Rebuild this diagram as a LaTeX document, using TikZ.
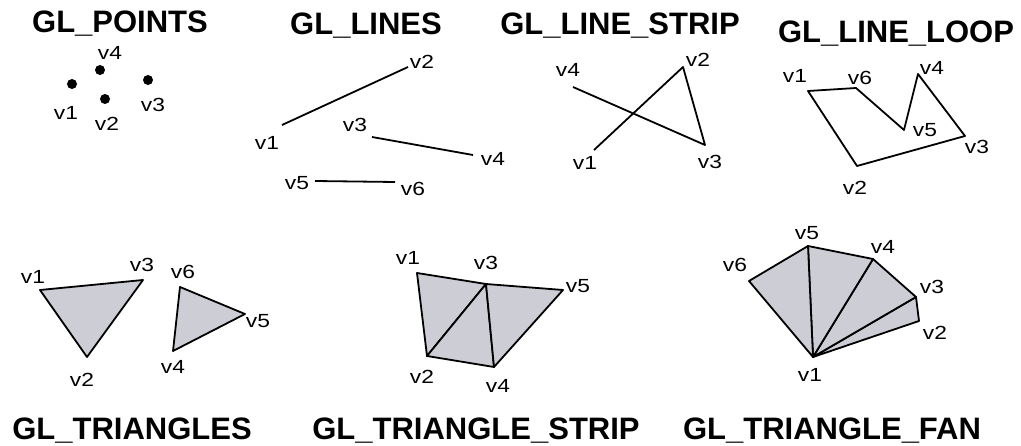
\documentclass[tikz,border=0pt]{standalone}
\usepackage{fontspec}
\setmainfont{Liberation Sans}
\newfontfamily\vfont[FakeStretch=1.2]{Liberation Sans}
\usetikzlibrary{positioning}

\definecolor{facegray}{RGB}{205,205,213}
\tikzset{
  title/.style={font=\bfseries\fontsize{31}{32}\selectfont, anchor=base, inner sep=0pt},
  vlabel/.style={font=\vfont\fontsize{19}{20}\selectfont, inner sep=0pt},
  edge/.style={line width=1.8pt, line join=round},
  face/.style={fill=facegray, draw=black, line width=1.8pt, line join=round},
}

\begin{document}
\begin{tikzpicture}[x=1pt, y=-1pt]
\useasboundingbox (0,0) rectangle (1021,446);
% GL_POINTS
\node[title] (tpts) at (120,33) {GL\_POINTS};
\coordinate (pa1) at (72,84);
\coordinate (pa2) at (105,99);
\coordinate (pa3) at (148,80);
\coordinate (pa4) at (100,70);
\foreach \i in {1,...,4} \fill (pa\i) circle (5);
\node[vlabel] (la1) at (66,113) {v1};
\node[vlabel] (la2) at (107,124) {v2};
\node[vlabel] (la3) at (153,105) {v3};
\node[vlabel] (la4) at (110,53) {v4};
% GL_LINES
\node[title] (tlin) at (366,35) {GL\_LINES};
\coordinate (pb1) at (282,125);
\coordinate (pb2) at (408,67);
\coordinate (pb3) at (372,137);
\coordinate (pb4) at (473,155);
\coordinate (pb5) at (315,181);
\coordinate (pb6) at (395,182);
\draw[edge] (pb1) -- (pb2);
\draw[edge] (pb3) -- (pb4);
\draw[edge] (pb5) -- (pb6);
\node[vlabel] (lb1) at (267,143) {v1};
\node[vlabel] (lb2) at (422,62) {v2};
\node[vlabel] (lb3) at (355,125) {v3};
\node[vlabel] (lb4) at (493,159) {v4};
\node[vlabel] (lb5) at (297,183) {v5};
\node[vlabel] (lb6) at (413,189) {v6};
% GL_LINE_STRIP
\node[title] (tstr) at (620,35) {GL\_LINE\_STRIP};
\coordinate (pc1) at (594,150);
\coordinate (pc2) at (683,67);
\coordinate (pc3) at (705,145);
\coordinate (pc4) at (573,87);
\draw[edge] (pc1) -- (pc2) -- (pc3) -- (pc4);
\node[vlabel] (lc1) at (585,163) {v1};
\node[vlabel] (lc2) at (698,60) {v2};
\node[vlabel] (lc3) at (710,162) {v3};
\node[vlabel] (lc4) at (568,70) {v4};
% GL_LINE_LOOP
\node[title] (tloo) at (896,43) {GL\_LINE\_LOOP};
\coordinate (pd1) at (808,91);
\coordinate (pd2) at (857,166);
\coordinate (pd3) at (965,136);
\coordinate (pd4) at (918,74);
\coordinate (pd5) at (904,130);
\coordinate (pd6) at (856,88);
\draw[edge] (pd1) -- (pd2) -- (pd3) -- (pd4) -- (pd5) -- (pd6) -- cycle;
\node[vlabel] (ld1) at (795,76) {v1};
\node[vlabel] (ld2) at (855,188) {v2};
\node[vlabel] (ld3) at (977,147) {v3};
\node[vlabel] (ld4) at (932,68) {v4};
\node[vlabel] (ld5) at (925,130) {v5};
\node[vlabel] (ld6) at (860,78) {v6};
% GL_TRIANGLES
\node[title] (ttri) at (132,440) {GL\_TRIANGLES};
\coordinate (pe1) at (40,290);
\coordinate (pe2) at (87,357);
\coordinate (pe3) at (143,280);
\coordinate (pe4) at (173,351);
\coordinate (pe5) at (245,314);
\coordinate (pe6) at (180,287);
\draw[face] (pe1) -- (pe2) -- (pe3) -- cycle;
\draw[face] (pe4) -- (pe5) -- (pe6) -- cycle;
\node[vlabel] (le1) at (33,277) {v1};
\node[vlabel] (le2) at (82,380) {v2};
\node[vlabel] (le3) at (142,265) {v3};
\node[vlabel] (le4) at (173,367) {v4};
\node[vlabel] (le5) at (258,321) {v5};
\node[vlabel] (le6) at (183,272) {v6};
% GL_TRIANGLE_STRIP
\node[title] (ttst) at (476,440) {GL\_TRIANGLE\_STRIP};
\coordinate (pf1) at (417,273);
\coordinate (pf2) at (427,356);
\coordinate (pf3) at (486,284);
\coordinate (pf4) at (494,367);
\coordinate (pf5) at (563,290);
\draw[face] (pf1) -- (pf2) -- (pf3) -- cycle;
\draw[face] (pf2) -- (pf3) -- (pf4) -- cycle;
\draw[face] (pf3) -- (pf4) -- (pf5) -- cycle;
\node[vlabel] (lf1) at (408,258) {v1};
\node[vlabel] (lf2) at (422,377) {v2};
\node[vlabel] (lf3) at (486,263) {v3};
\node[vlabel] (lf4) at (498,386) {v4};
\node[vlabel] (lf5) at (578,286) {v5};
% GL_TRIANGLE_FAN
\node[title] (tfan) at (832,440) {GL\_TRIANGLE\_FAN};
\coordinate (pg1) at (813,357);
\coordinate (pg2) at (919,321);
\coordinate (pg3) at (916,297);
\coordinate (pg4) at (873,259);
\coordinate (pg5) at (808,246);
\coordinate (pg6) at (749,281);
\foreach \i [evaluate=\i as \j using int(\i+1)] in {2,...,5}
  \draw[face] (pg1) -- (pg\i) -- (pg\j) -- cycle;
\node[vlabel] (lg1) at (810,375) {v1};
\node[vlabel] (lg2) at (935,333) {v2};
\node[vlabel] (lg3) at (932,287) {v3};
\node[vlabel] (lg4) at (883,247) {v4};
\node[vlabel] (lg5) at (807,233) {v5};
\node[vlabel] (lg6) at (735,265) {v6};
\end{tikzpicture}
\end{document}
